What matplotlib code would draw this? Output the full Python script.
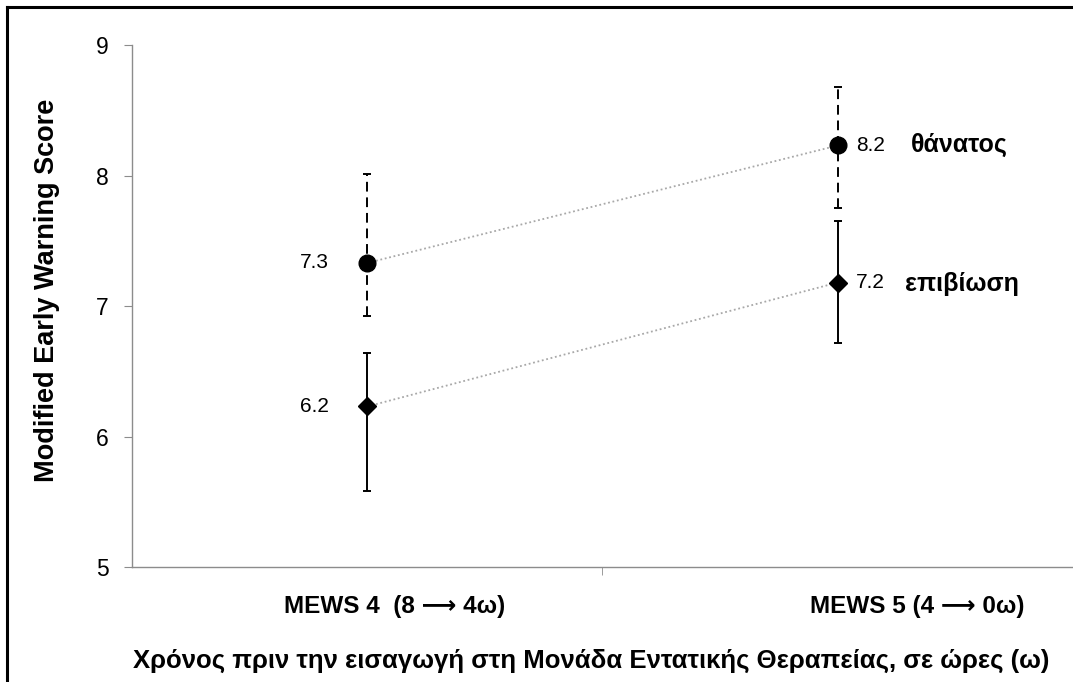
import matplotlib
matplotlib.use("Agg")
import matplotlib.pyplot as plt
import matplotlib.transforms as mtransforms
from matplotlib.lines import Line2D
import numpy as np

plt.rcParams['font.family'] = ['Liberation Sans', 'DejaVu Sans']

# MEWS ανά ομάδα (μέση τιμή, κάτω και άνω όριο)
categories = ["MEWS 4  (8 ⟶ 4ω)", "MEWS 5 (4 ⟶ 0ω)"]
death_mean = [7.33, 8.23]
death_low = [6.92, 7.75]
death_high = [8.01, 8.68]
surv_mean = [6.23, 7.18]
surv_low = [5.58, 6.72]
surv_high = [6.64, 7.65]
group_names = ["θάνατος", "επιβίωση"]

fig = plt.figure(figsize=(10.73, 6.82), dpi=100)
ax = fig.add_axes([0.123, 0.1686, 0.877, 0.7654])

x = np.arange(len(categories)) + 0.5
grey = "#8c8c8c"


def drawGroup(mean, low, high, marker, ms, dashed):
    mean = np.array(mean)
    err = [mean - np.array(low), np.array(high) - mean]
    ax.plot(x, mean, ls=(0, (1, 1.5)), color="#a8a8a8", lw=1.3, zorder=1)
    eb = ax.errorbar(x, mean, yerr=err, fmt=marker, ms=ms, color="black",
                     ecolor="black", elinewidth=1.4, capsize=3, capthick=1.4, zorder=3)
    if dashed:
        eb[2][0].set_linestyle((0, (5, 3)))
    return mean


dm = drawGroup(death_mean, death_low, death_high, "o", 12, True)
sm = drawGroup(surv_mean, surv_low, surv_high, "D", 9, False)

# τιμές δίπλα στα σημεία
for m in (dm, sm):
    ax.annotate("%.1f" % m[0], (x[0], m[0]), xytext=(-38, 0), textcoords="offset pixels",
                ha="right", va="center", fontsize=15)
    ax.annotate("%.1f" % m[1], (x[1], m[1]), xytext=(18, 0), textcoords="offset pixels",
                ha="left", va="center", fontsize=15)

ax.annotate(group_names[0], (x[1], dm[1]), xytext=(73, 1), textcoords="offset pixels",
            ha="left", va="center", fontsize=18, fontweight="bold")
ax.annotate(group_names[1], (x[1], sm[1]), xytext=(67, -1), textcoords="offset pixels",
            ha="left", va="center", fontsize=18, fontweight="bold")

ax.set_xlim(0, 2)
ax.set_ylim(5, 9)
ax.set_yticks([5, 6, 7, 8, 9])
ax.set_xticks(x)
ax.set_xticklabels(categories, fontsize=17.5, fontweight="bold")
ax.set_xticks([1], minor=True)
ax.tick_params(axis="x", which="major", length=0, pad=20)
ax.tick_params(axis="x", which="minor", length=6, color=grey)
ax.tick_params(axis="y", length=6, color=grey, labelsize=16.5, pad=11)

# οι ετικέτες των κατηγοριών είναι λίγο μετατοπισμένες δεξιά
for lab, dx in zip(ax.get_xticklabels(), (27, 80)):
    lab.set_transform(lab.get_transform() +
                      mtransforms.ScaledTranslation(dx / 100, 0, fig.dpi_scale_trans))

for s in ("top", "right"):
    ax.spines[s].set_visible(False)
for s in ("left", "bottom"):
    ax.spines[s].set_color(grey)
    ax.spines[s].set_linewidth(1.0)

ax.set_ylabel("Modified Early Warning Score", fontsize=19.5, fontweight="bold")
ax.yaxis.set_label_coords(-0.077, 0.53)
ax.set_xlabel("Χρόνος πριν την εισαγωγή στη Μονάδα Εντατικής Θεραπείας, σε ώρες (ω)",
              fontsize=18.5, fontweight="bold")
ax.xaxis.set_label_coords(0.488, -0.157)

# πλαίσιο πάνω και αριστερά
fig.add_artist(Line2D([7 / 1073, 7 / 1073], [0, 1 - 7 / 682], color="black", lw=2.2,
                      transform=fig.transFigure))
fig.add_artist(Line2D([7 / 1073, 1], [1 - 7 / 682, 1 - 7 / 682], color="black", lw=2.2,
                      transform=fig.transFigure))

fig.savefig("out.png", dpi=100)
